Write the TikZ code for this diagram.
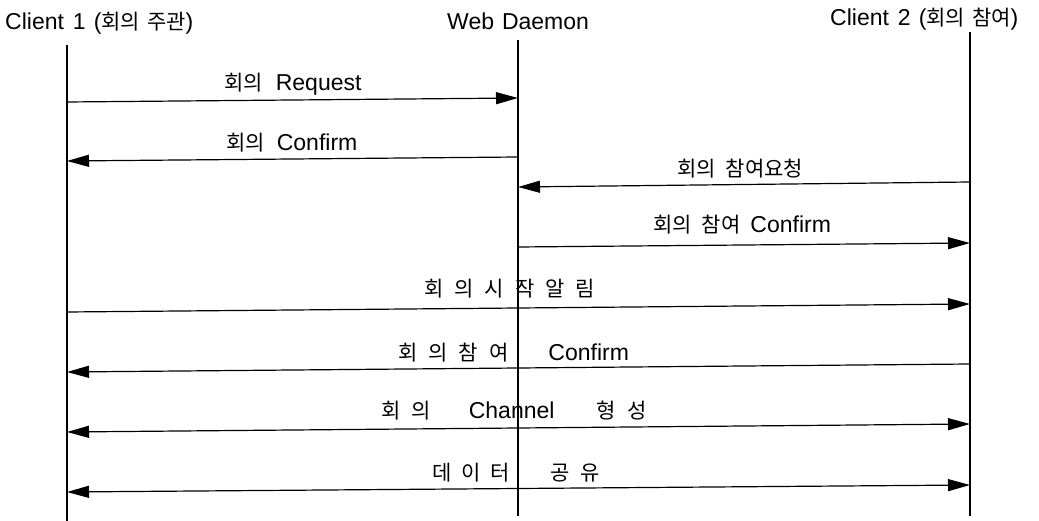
\documentclass[tikz,border=0pt]{standalone}
\usepackage{fontspec}
\setmainfont{Liberation Sans}
\newfontfamily\krfont{Noto Sans CJK KR}
\newcommand\K[1]{{\krfont\fontsize{21}{24}\selectfont #1}}
\usetikzlibrary{arrows.meta}
\begin{document}
\begin{tikzpicture}[x=1pt,y=-1pt,
  lbl/.style={font=\fontsize{23}{26}\selectfont, inner sep=0pt, anchor=base west},
  life/.style={line width=1.8pt},
  msg/.style={line width=1.2pt, -{Triangle[length=22pt,width=12pt]}},
  bmsg/.style={line width=1.2pt, {Triangle[length=22pt,width=12pt]}-{Triangle[length=22pt,width=12pt]}}]
\useasboundingbox (0,0) rectangle (1039,521);
% headers
\node[lbl] (h1) at (5,30) {Client\hspace{9pt}1\hspace{8pt}(\K{회의}\hspace{7pt}\K{주관})};
\node[lbl] (h2) at (447,30) {Web\hspace{8pt}Daemon};
\node[lbl] (h3) at (830,26) {Client\hspace{9pt}2\hspace{8pt}(\K{회의}\hspace{7pt}\K{참여})};
% lifelines
\coordinate (c1t) at (67,45);  \coordinate (c1b) at (67,521);
\coordinate (wdt) at (518,40); \coordinate (wdb) at (518,516);
\coordinate (c2t) at (970,32); \coordinate (c2b) at (970,516);
\draw[life] (c1t) -- (c1b);
\draw[life] (wdt) -- (wdb);
\draw[life] (c2t) -- (c2b);
% message end points
\coordinate (m1a) at (67,102);  \coordinate (m1b) at (518,98);
\coordinate (m2a) at (518,157); \coordinate (m2b) at (67,161);
\coordinate (m3a) at (970,182); \coordinate (m3b) at (518,187);
\coordinate (m4a) at (518,247); \coordinate (m4b) at (970,243);
\coordinate (m5a) at (67,312);  \coordinate (m5b) at (970,304);
\coordinate (m6a) at (970,364); \coordinate (m6b) at (67,372);
\coordinate (m7a) at (67,432);  \coordinate (m7b) at (970,424);
\coordinate (m8a) at (67,492);  \coordinate (m8b) at (970,485);
\draw[msg] (m1a) -- (m1b);
\draw[msg] (m2a) -- (m2b);
\draw[msg] (m3a) -- (m3b);
\draw[msg] (m4a) -- (m4b);
\draw[msg] (m5a) -- (m5b);
\draw[msg] (m6a) -- (m6b);
\draw[bmsg] (m7a) -- (m7b);
\draw[bmsg] (m8a) -- (m8b);
% labels
\node[lbl] (l1) at (224,91) {\K{회의}\hspace{13pt}Request};
\node[lbl] (l2) at (226,151) {\K{회의}\hspace{12pt}Confirm};
\node[lbl] (l3) at (677,177) {\K{회의}\hspace{10pt}\K{참여요청}};
\node[lbl] (l4) at (653,233) {\K{회의}\hspace{10pt}\K{참여}\hspace{10pt}Confirm};
\node[lbl] (l5) at (424,297) {\K{회}\hspace{11pt}\K{의}\hspace{11pt}\K{시}\hspace{11pt}\K{작}\hspace{11pt}\K{알}\hspace{11pt}\K{림}};
\node[lbl] (l6) at (398,360) {\K{회}\hspace{11pt}\K{의}\hspace{11pt}\K{참}\hspace{11pt}\K{여}\hspace{40pt}Confirm};
\node[lbl] (l7) at (381,418) {\K{회}\hspace{11pt}\K{의}\hspace{38pt}Channel\hspace{42pt}\K{형}\hspace{12pt}\K{성}};
\node[lbl] (l8) at (432,480) {\K{데}\hspace{10pt}\K{이}\hspace{10pt}\K{터}\hspace{40pt}\K{공}\hspace{11pt}\K{유}};
\end{tikzpicture}
\end{document}
